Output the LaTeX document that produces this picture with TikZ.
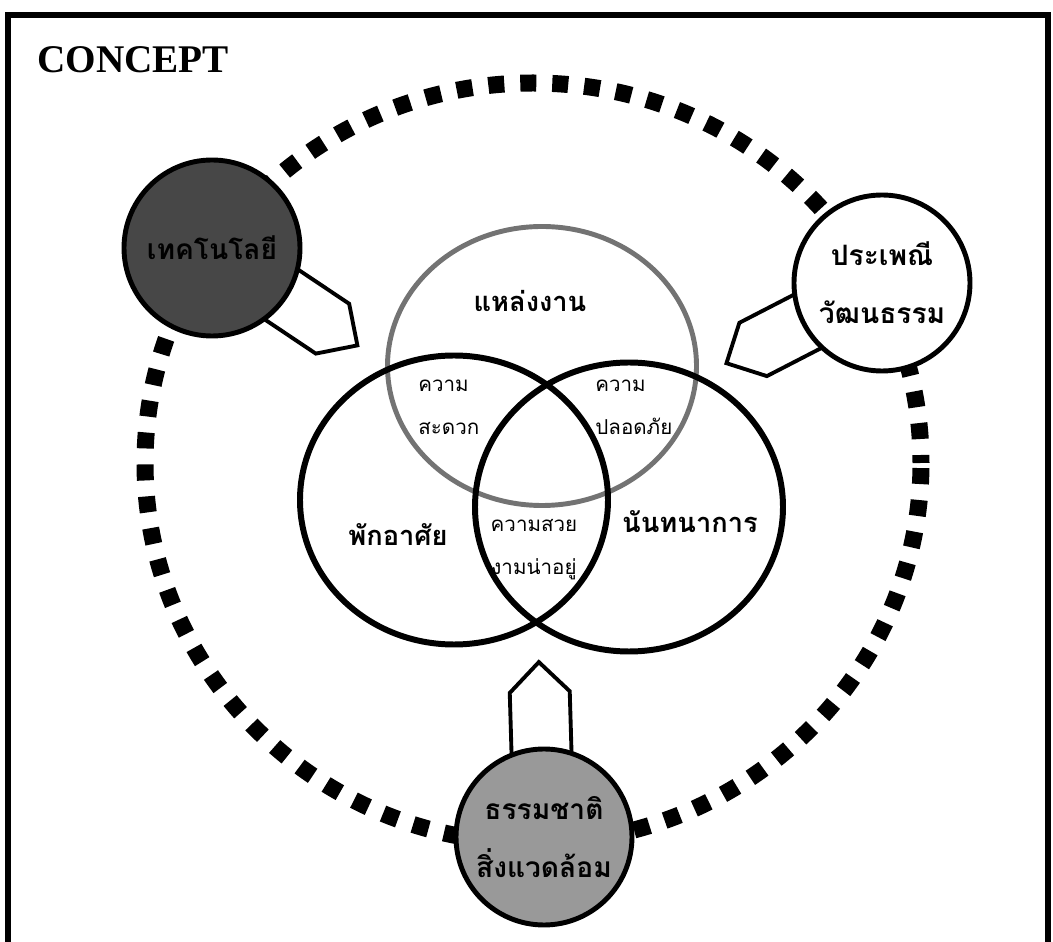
\documentclass[tikz,border=0pt]{standalone}
\usepackage{fontspec}
\setmainfont{Liberation Serif}
\newfontfamily\thaifont[Script=Thai]{Loma}
\usetikzlibrary{calc,positioning,shapes.geometric,backgrounds}

% arrow-like tag from a satellite towards the centre
\newcommand{\tagto}[1]{%
  \draw[pointer] ($(#1)!1cm!(ctr)!0.6cm!90:(ctr)$)
    -- ($(#1)!2.9cm!(ctr)!0.6cm!90:(ctr)$)
    -- ($(#1)!3.5cm!(ctr)$)
    -- ($(#1)!2.9cm!(ctr)!0.6cm!-90:(ctr)$)
    -- ($(#1)!1cm!(ctr)!0.6cm!-90:(ctr)$) -- cycle;}

\begin{document}
\begin{tikzpicture}[
  sat/.style={circle, draw, line width=2.8pt, minimum size=3.52cm, inner sep=0pt,
    align=center, font=\thaifont\bfseries\fontsize{16}{33}\selectfont},
  venn/.style={ellipse, draw, line width=3.4pt, inner sep=0pt},
  lbl/.style={font=\thaifont\bfseries\fontsize{15.5}{20}\selectfont},
  meet/.style={font=\thaifont\fontsize{11.7}{24.5}\selectfont, inner sep=0pt},
  pointer/.style={draw, fill=white, line width=2.2pt, line join=miter}
]
    \useasboundingbox (0,0) rectangle (21.06,18.84);
    % frame
    \draw[line width=0.12cm] (0.16,0) -- (0.16,18.54) -- (20.96,18.54) -- (20.96,0);
    \node[anchor=base west, inner sep=0pt, font=\bfseries\fontsize{22.3}{26}\selectfont] (title) at (0.74,17.38) {CONCEPT};

    % dotted ring
    \coordinate (ctr) at (10.66,9.58);
    \draw[line width=0.34cm, dash pattern=on 0.32cm off 0.32cm, dash phase=0.16cm]
        (ctr) ellipse [x radius=7.76cm, y radius=7.6cm];

    % the three sets
    \node[venn, draw=black!55, line width=2.8pt, minimum width=6.18cm, minimum height=5.58cm] (work) at (10.84,11.52) {};
    \node[venn, minimum width=6.16cm, minimum height=5.78cm] (home) at (9.08,8.84) {};
    \node[venn, minimum width=6.16cm, minimum height=5.78cm] (leisure) at (12.58,8.70) {};

    \node[lbl] (worklbl) at (10.60,12.82) {แหล่งงาน};
    \node[lbl] (homelbl) at (7.96,8.14) {พักอาศัย};
    \node[lbl] (leislbl) at (13.80,8.40) {นันทนาการ};
    \node[meet, align=left, anchor=west] (easy) at (8.36,10.69) {ความ\\สะดวก};
    \node[meet, align=left, anchor=west] (safe) at (11.90,10.69) {ความ\\ปลอดภัย};
    \node[meet, align=center] (nice) at (10.68,7.85) {ความสวย\\งามน่าอยู่};

    % satellites
    \node[sat, fill=black!72] (tech) at (4.24,13.88) {เทคโนโลยี};
    \node[sat, fill=white] (trad) at (17.64,13.18) {ประเพณี\\วัฒนธรรม};
    \node[sat, fill=black!40] (nature) at (10.88,2.10) {ธรรมชาติ\\สิ่งแวดล้อม};

    \begin{scope}[on background layer]
        \tagto{tech}
        \tagto{trad}
        \tagto{nature}
    \end{scope}
\end{tikzpicture}
\end{document}
